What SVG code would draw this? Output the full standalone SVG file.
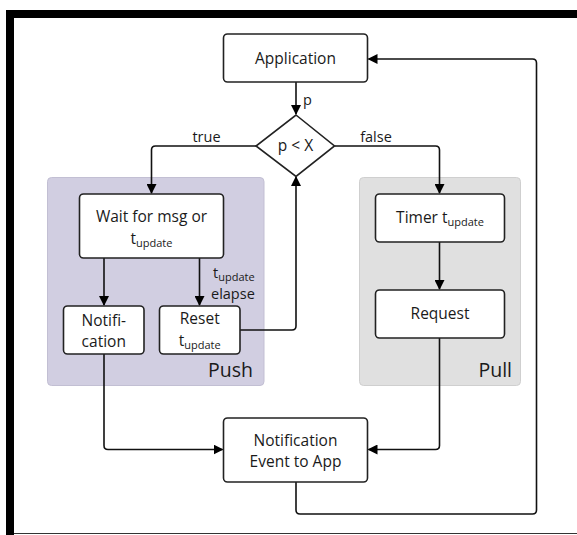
<svg xmlns="http://www.w3.org/2000/svg" width="577" height="535" viewBox="0 0 577 535">
<defs>
<marker id="arr" markerWidth="10" markerHeight="10" refX="9" refY="5" orient="auto" markerUnits="userSpaceOnUse">
<path d="M0,0 L10,5 L0,10 Z" fill="#000"/>
</marker>
<style>
.box{fill:#fff;stroke:#222;stroke-width:1.6}
.t{font-family:"Open Sans","Liberation Sans",sans-serif;font-size:15.5px;fill:#1a1a1a;text-anchor:middle}
.lb{font-family:"Open Sans","Liberation Sans",sans-serif;font-size:14.5px;fill:#1a1a1a}
.big{font-family:"Open Sans","Liberation Sans",sans-serif;font-size:19.5px;fill:#1a1a1a;text-anchor:end}
.sub{font-size:11px}
.c{fill:none;stroke:#111;stroke-width:1.6;stroke-linejoin:round}
</style>
</defs>
<rect x="0" y="0" width="577" height="535" fill="#fff"/>
<g id="frame">
<rect x="6" y="10" width="571" height="8" fill="#000"/>
<rect x="6" y="10" width="8" height="525" fill="#000"/>
<line x1="14" y1="533.5" x2="577" y2="533.5" stroke="#333" stroke-width="1.2"/>
</g>
<g id="push-group">
<rect x="47.5" y="177.5" width="216.5" height="208" rx="4" fill="#d1cee1" stroke="#c2bfd3" stroke-width="1"/>
<text class="big" x="253" y="377">Push</text>
</g>
<g id="pull-group">
<rect x="359.5" y="177.5" width="161" height="208" rx="4" fill="#e0e0e0" stroke="#cfcfcf" stroke-width="1"/>
<text class="big" x="512" y="377">Pull</text>
</g>
<g id="connectors">
<path class="c" d="M296,82 V114" marker-end="url(#arr)"/>
<path class="c" d="M256,146 H155.5 Q151.5,146 151.5,150 V193" marker-end="url(#arr)"/>
<path class="c" d="M334.5,146 H435.5 Q439.5,146 439.5,150 V193" marker-end="url(#arr)"/>
<path class="c" d="M104,258 V305" marker-end="url(#arr)"/>
<path class="c" d="M199.5,258 V305" marker-end="url(#arr)"/>
<path class="c" d="M240,330 H292 Q296,330 296,326 V177" marker-end="url(#arr)"/>
<path class="c" d="M439.5,242 V289" marker-end="url(#arr)"/>
<path class="c" d="M439.5,338 V445.5 Q439.5,449.5 435.5,449.5 H368.5" marker-end="url(#arr)"/>
<path class="c" d="M104,354 V445.5 Q104,449.5 108,449.5 H222.5" marker-end="url(#arr)"/>
<path class="c" d="M296,482 V510 Q296,514 300,514 H532.5 Q536.5,514 536.5,510 V63 Q536.5,59 532.5,59 H368.5" marker-end="url(#arr)"/>
<text class="lb" x="303" y="105">p</text>
<text class="lb" x="206.5" y="142" text-anchor="middle">true</text>
<text class="lb" x="376" y="142" text-anchor="middle">false</text>
<text class="lb" x="213" y="278">t<tspan class="sub" dy="3">update</tspan></text>
<text class="lb" x="211" y="299">elapse</text>
</g>
<g id="application">
<rect class="box" x="223.5" y="34" width="144" height="48" rx="4"/>
<text class="t" x="295.5" y="64">Application</text>
</g>
<g id="decision">
<polygon class="box" points="296,115 334.5,146 296,176.5 256,146"/>
<text class="t" x="295.5" y="151">p &lt; X</text>
</g>
<g id="wait">
<rect class="box" x="79.5" y="194" width="144" height="64" rx="4"/>
<text class="t" x="151.5" y="222">Wait for msg or</text>
<text class="t" x="151.5" y="244">t<tspan class="sub" dy="3">update</tspan></text>
</g>
<g id="notification">
<rect class="box" x="63.5" y="306" width="80.5" height="48" rx="4"/>
<text class="t" x="103.75" y="326">Notifi-</text>
<text class="t" x="103.75" y="347">cation</text>
</g>
<g id="reset">
<rect class="box" x="159.5" y="306" width="80.5" height="48" rx="4"/>
<text class="t" x="199.75" y="324">Reset</text>
<text class="t" x="199.75" y="345.5">t<tspan class="sub" dy="3">update</tspan></text>
</g>
<g id="timer">
<rect class="box" x="375.5" y="194" width="129" height="48" rx="4"/>
<text class="t" x="440" y="223">Timer t<tspan class="sub" dy="3">update</tspan></text>
</g>
<g id="request">
<rect class="box" x="375.5" y="290" width="129" height="48" rx="4"/>
<text class="t" x="440" y="319">Request</text>
</g>
<g id="notification-event">
<rect class="box" x="223.5" y="418" width="144" height="64" rx="4"/>
<text class="t" x="295.5" y="446">Notification</text>
<text class="t" x="295.5" y="467">Event to App</text>
</g>
</svg>
